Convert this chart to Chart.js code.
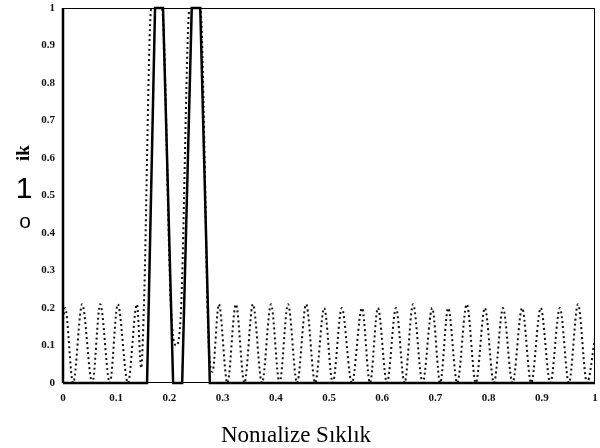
<!DOCTYPE html>
<html>
<head>
<meta charset="utf-8">
<script src="https://cdn.jsdelivr.net/npm/chart.js@4"></script>
<style>
  html, body { margin: 0; padding: 0; background: #fff; }
  #wrap { width: 600px; height: 448px; }
</style>
</head>
<body>
<div id="wrap"><canvas id="chart" width="600" height="448"></canvas></div>
<script>
// Filter response (normalised frequency vs amplitude)
const xTickLabels = ['0', '0.1', '0.2', '0.3', '0.4', '0.5', '0.6', '0.7', '0.8', '0.9', '1'];
const yTickLabels = ['0', '0.1', '0.2', '0.3', '0.4', '0.5', '0.6', '0.7', '0.8', '0.9', '1'];

// Ideal band-pass (solid)
const idealX = [0, 0.158, 0.173, 0.188, 0.207, 0.224, 0.242, 0.258, 0.276, 1];
const idealY = [0, 0,     1,     1,     0,     0,     1,     1,     0,     0];

// Designed response (dotted)
const designX = [0, 0.004, 0.019, 0.036, 0.055, 0.070, 0.088, 0.103, 0.122, 0.139, 0.147, 0.152,
  0.166, 0.186, 0.203, 0.213, 0.222, 0.238, 0.258, 0.274, 0.281,
  0.293, 0.309, 0.325, 0.341, 0.357, 0.374, 0.391, 0.407, 0.423, 0.440, 0.457, 0.474,
  0.491, 0.507, 0.524, 0.543, 0.562, 0.577, 0.592, 0.609, 0.626, 0.642, 0.658, 0.676,
  0.694, 0.709, 0.724, 0.741, 0.759, 0.776, 0.793, 0.810, 0.827, 0.845, 0.863, 0.880,
  0.898, 0.916, 0.934, 0.951, 0.968, 0.985, 1.000];
const designY = [0.17, 0.20, 0, 0.21, 0, 0.21, 0, 0.21, 0, 0.21, 0.04, 0.20,
  1, 1, 0.20, 0.10, 0.20, 1, 1, 0.10, 0.03,
  0.21, 0, 0.21, 0, 0.21, 0, 0.21, 0, 0.21, 0, 0.21, 0,
  0.20, 0, 0.20, 0, 0.20, 0, 0.20, 0, 0.20, 0, 0.21, 0,
  0.20, 0, 0.20, 0, 0.21, 0, 0.20, 0, 0.20, 0, 0.20, 0,
  0.20, 0, 0.20, 0, 0.21, 0, 0.12];

const xTitle = 'Nonıalize Sıklık';

function toPoints(xs, ys) {
    return xs.map((x, i) => ({ x: x, y: ys[i] }));
}

// Frame and the odd scanned labels
const framePlugin = {
    id: 'frame',
    afterDraw(chart) {
        const { ctx, chartArea: a } = chart;
        ctx.save();
        ctx.strokeStyle = '#000';
        ctx.lineWidth = 1;
        ctx.strokeRect(a.left + 0.5, a.top + 0.5, a.right - a.left - 1, a.bottom - a.top - 1);
        ctx.lineWidth = 2.5;
        ctx.beginPath();
        ctx.moveTo(a.left, a.top);
        ctx.lineTo(a.left, a.bottom);
        ctx.stroke();

        ctx.fillStyle = '#000';
        ctx.textAlign = 'center';
        ctx.textBaseline = 'alphabetic';
        ctx.font = '23px "Liberation Serif"';
        ctx.fillText(xTitle, 296, 442);

        ctx.font = '30px "Liberation Sans"';
        ctx.fillText('1', 24, 198);
        ctx.font = '21px "Liberation Sans"';
        ctx.fillText('o', 25, 228);

        ctx.translate(29, 153);
        ctx.rotate(-Math.PI / 2);
        ctx.font = 'bold 19px "Liberation Serif"';
        ctx.fillText('ik', 0, 0);
        ctx.restore();
    }
};

function createChart() {
    const ctx = document.getElementById('chart');
    new Chart(ctx, {
        type: 'line',
        data: {
            datasets: [{
                label: 'ideal',
                data: toPoints(idealX, idealY),
                borderColor: '#000',
                borderWidth: 2.5,
                pointRadius: 0,
                tension: 0,
                clip: false
            }, {
                label: 'design',
                data: toPoints(designX, designY),
                borderColor: '#111',
                borderWidth: 2,
                borderDash: [2, 3],
                pointRadius: 0,
                cubicInterpolationMode: 'monotone'
            }]
        },
        options: {
            responsive: false,
            animation: false,
            layout: { padding: { left: 0, right: 5, top: 8, bottom: 0 } },
            plugins: {
                legend: { display: false },
                tooltip: { enabled: false }
            },
            scales: {
                x: {
                    type: 'linear',
                    min: 0,
                    max: 1,
                    grid: { display: false, drawTicks: false },
                    border: { display: false },
                    afterFit: function(scale) {
                        scale.height = 65;
                        scale.paddingLeft = 0;
                        scale.paddingRight = 0;
                    },
                    ticks: {
                        stepSize: 0.1,
                        padding: 9,
                        color: '#111',
                        font: { family: 'Liberation Serif', size: 11, weight: 'bold' },
                        maxRotation: 0,
                        callback: function(value, index) { return xTickLabels[index]; }
                    }
                },
                y: {
                    min: 0,
                    max: 1,
                    grid: { display: false, drawTicks: false },
                    border: { display: false },
                    afterFit: function(scale) {
                        scale.width = 63;
                        scale.paddingTop = 0;
                        scale.paddingBottom = 0;
                    },
                    ticks: {
                        stepSize: 0.1,
                        padding: 8,
                        color: '#111',
                        font: { family: 'Liberation Serif', size: 11, weight: 'bold' },
                        callback: function(value, index) { return yTickLabels[index]; }
                    }
                }
            }
        },
        plugins: [framePlugin]
    });
}

createChart();
</script>
</body>
</html>
